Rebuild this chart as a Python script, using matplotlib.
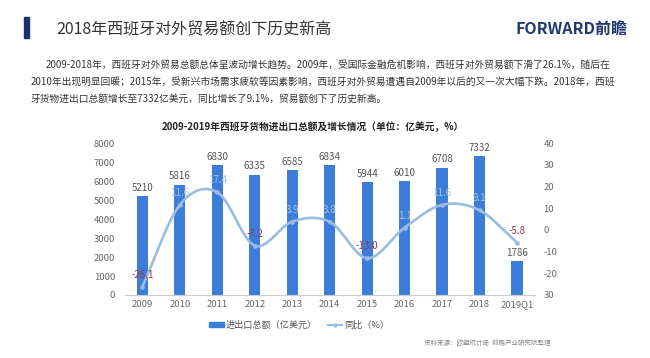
import numpy as np
import matplotlib
matplotlib.use("Agg")
import matplotlib.pyplot as plt
from matplotlib.patches import Rectangle
from matplotlib.lines import Line2D

plt.rcParams['font.family'] = ['Noto Sans CJK SC', 'DejaVu Sans']

# data
years = ["2009", "2010", "2011", "2012", "2013", "2014", "2015", "2016", "2017", "2018", "2019Q1"]
total = [5210, 5816, 6830, 6335, 6585, 6834, 5944, 6010, 6708, 7332, 1786]
growth = [-26.1, 11.6, 17.4, -7.2, 3.9, 3.8, -13.0, 1.1, 11.6, 9.1, -5.8]
left_ticks = [0, 1000, 2000, 3000, 4000, 5000, 6000, 7000, 8000]
right_ticks = [-30, -20, -10, 0, 10, 20, 30, 40]
right_labels = ["30", "-20", "-10", "0", "10", "20", "30", "40"]

bar_col = "#3b7dd8"
line_col = "#9abbe2"
grey = "#666666"


def smooth(xs, ys, n=30):
    # catmull-rom through the points (excel style smoothed line)
    xs = np.asarray(xs, float)
    ys = np.asarray(ys, float)
    px = np.concatenate([[2 * xs[0] - xs[1]], xs, [2 * xs[-1] - xs[-2]]])
    py = np.concatenate([[2 * ys[0] - ys[1]], ys, [2 * ys[-1] - ys[-2]]])
    outx, outy = [], []
    t = np.linspace(0, 1, n)
    for i in range(1, len(px) - 2):
        for p, out in ((px, outx), (py, outy)):
            p0, p1, p2, p3 = p[i - 1], p[i], p[i + 1], p[i + 2]
            out.extend(0.5 * (2 * p1 + (-p0 + p2) * t + (2 * p0 - 5 * p1 + 4 * p2 - p3) * t ** 2
                              + (-p0 + 3 * p1 - 3 * p2 + p3) * t ** 3))
    return np.array(outx), np.array(outy)


fig = plt.figure(figsize=(6.5, 3.58), dpi=100)
fig.patch.set_facecolor("white")

# header
fig.patches.append(Rectangle((0.037, 0.893), 0.007, 0.06, transform=fig.transFigure,
                             color="#1b2f6b", zorder=5))
fig.text(0.087, 0.918, "2018年西班牙对外贸易额创下历史新高", fontsize=11.5, color="#333333", va="center")
fig.text(0.965, 0.918, "FORWARD前瞻", fontsize=11.5, color="#1f3a6e", va="center", ha="right",
         fontweight="bold")

para = ["2009-2018年，西班牙对外贸易总额总体呈波动增长趋势。2009年，受国际金融危机影响，西班牙对外贸易额下滑了26.1%，随后在",
        "2010年出现明显回暖；2015年，受新兴市场需求疲软等因素影响，西班牙对外贸易遭遇自2009年以后的又一次大幅下跌。2018年，西班",
        "牙货物进出口总额增长至7332亿美元，同比增长了9.1%，贸易额创下了历史新高。"]
fig.text(0.07, 0.818, para[0], fontsize=7.0, color="#333333", va="center")
fig.text(0.047, 0.771, para[1], fontsize=7.0, color="#333333", va="center")
fig.text(0.047, 0.725, para[2], fontsize=7.0, color="#333333", va="center")

fig.text(0.481, 0.645, "2009-2019年西班牙货物进出口总额及增长情况（单位：亿美元，%）", fontsize=7.0,
         fontweight="bold", color="#222222", ha="center", va="center")

ax = fig.add_axes([0.192, 0.176, 0.631, 0.4237])
x = np.arange(len(years))
ax.bar(x, total, width=0.3, color=bar_col, zorder=2)
for xi, v in zip(x, total):
    ax.text(xi, v + 180, str(v), ha="center", va="bottom", fontsize=7, color="#555555")
ax.set_ylim(0, 8000)
ax.set_xlim(-0.47, 10.48)
ax.set_yticks(left_ticks)
ax.set_xticks(x)
ax.set_xticklabels(years)
ax.tick_params(axis="both", length=0, labelsize=6.8, labelcolor=grey)
ax.tick_params(axis="y", pad=7)
for s in ["top", "right", "left"]:
    ax.spines[s].set_visible(False)
ax.spines["bottom"].set_color("#cccccc")

ax2 = ax.twinx()
sx, sy = smooth(x, growth)
ax2.plot(sx, sy, color=line_col, lw=1.9, zorder=3, solid_capstyle="round")
ax2.plot(x, growth, "o", color=line_col, ms=2.3, zorder=4)
for xi, g in zip(x, growth):
    c = "#9b3550" if g < 0 else "#a8c2e6"
    ax2.text(xi, g + 3.2, f"{g:.1f}", ha="center", va="bottom", fontsize=7, color=c, zorder=5)
ax2.set_ylim(-30, 40)
ax2.set_yticks(right_ticks)
ax2.set_yticklabels(right_labels)
ax2.tick_params(axis="y", length=0, labelsize=6.8, labelcolor=grey, pad=6)
for s in ["top", "right", "left", "bottom"]:
    ax2.spines[s].set_visible(False)

handles = [Rectangle((0, 0), 1, 1, color=bar_col),
           Line2D([0], [0], color=line_col, lw=1.5, marker="o", ms=2)]
fig.legend(handles, ["进出口总额（亿美元）", "同比（%）"], loc="center", bbox_to_anchor=(0.46, 0.092),
           ncol=2, frameon=False, fontsize=6.6, handlelength=1.6, handleheight=0.6,
           handletextpad=0.2, columnspacing=1.2, labelcolor="#555555")

fig.text(0.847, 0.042, "资料来源：欧盟统计局  前瞻产业研究院整理", fontsize=4.7, color="#888888",
         ha="right", va="center")

fig.savefig("out.png", dpi=100)
